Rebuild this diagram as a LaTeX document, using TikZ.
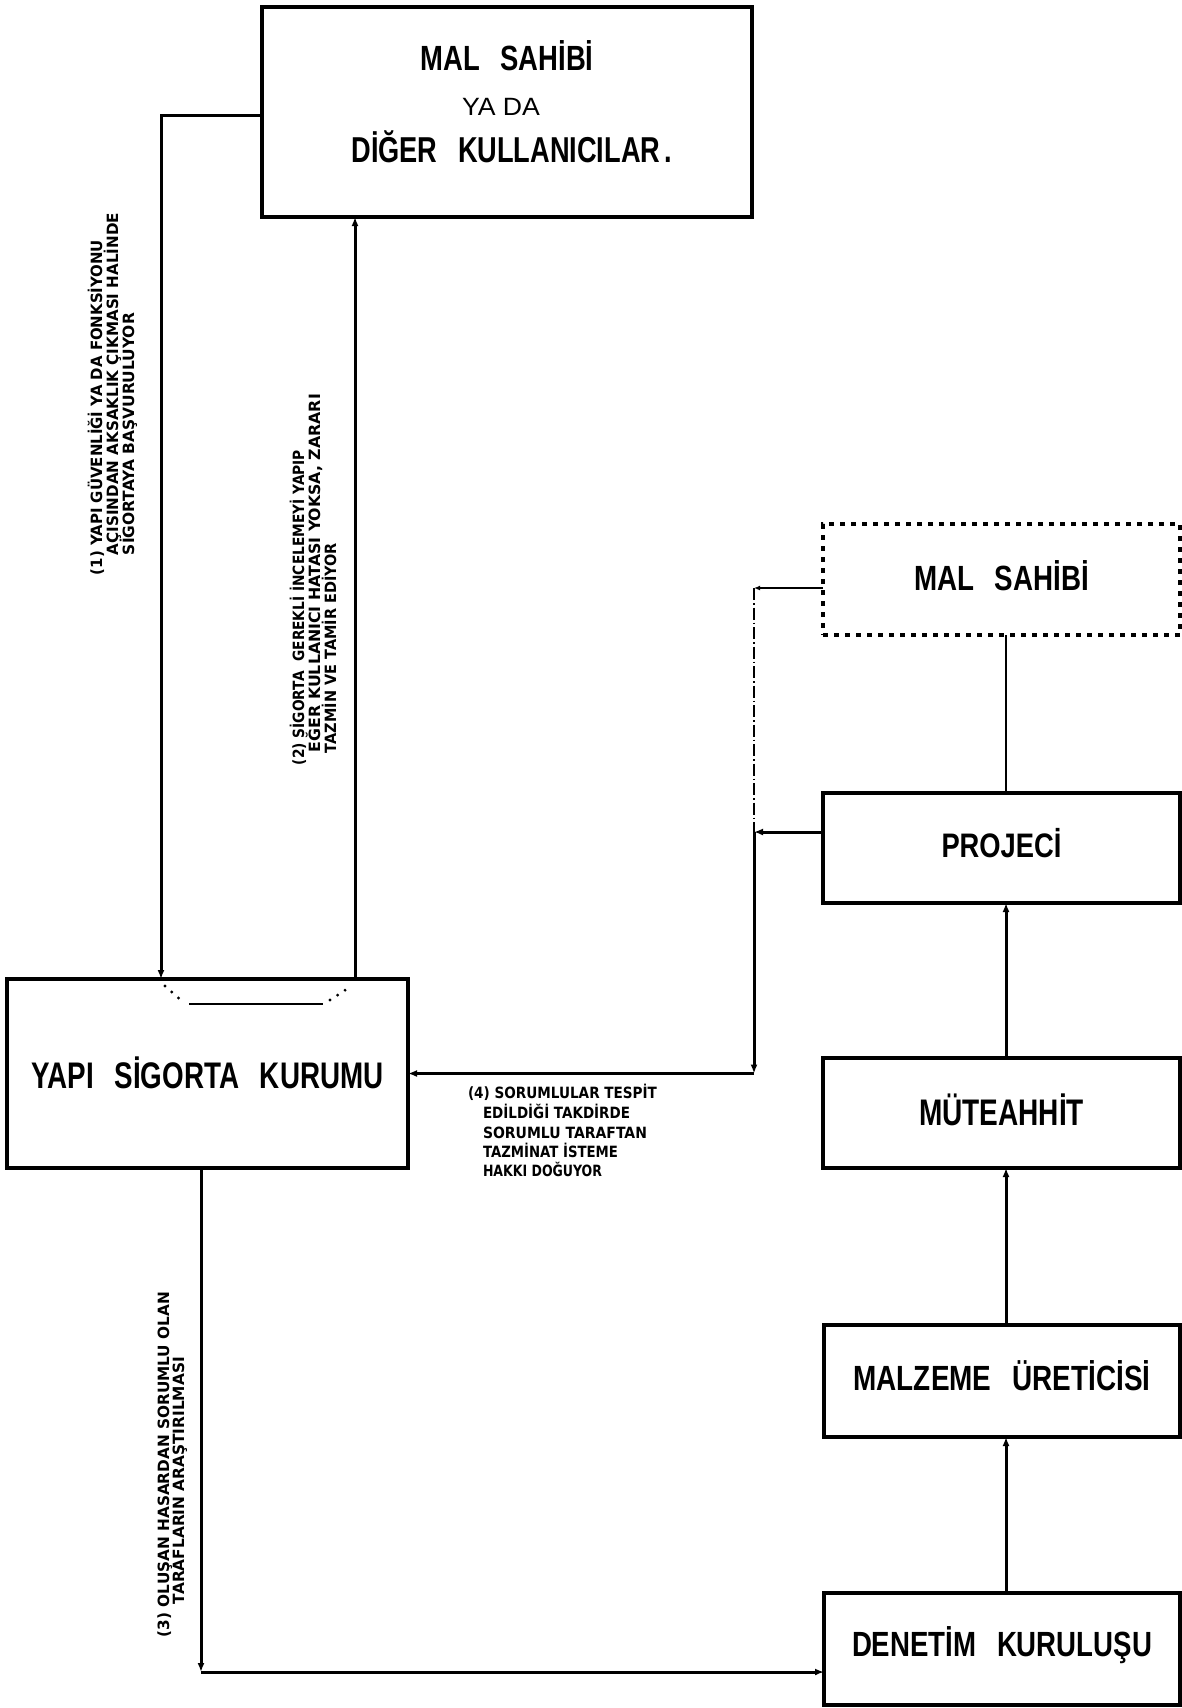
\documentclass[tikz,border=0pt]{standalone}
\usepackage{fontspec}
\usepackage{graphicx}
\usetikzlibrary{arrows.meta,calc}
\setmainfont{Liberation Sans}
\newfontfamily\boxfont{Liberation Sans}
\newfontfamily\notefont{DejaVu Sans}

% squeeze or stretch a text horizontally to a given width, keeping its height
\newcommand{\fitw}[2]{\resizebox{#1}{\height}{#2}}
\newcommand{\wgap}{\hspace{0.75em}}
% box titles: size, width, text
\newcommand{\boxtxt}[3]{\fitw{#2}{\boxfont\bfseries\fontsize{#1}{#1}\selectfont #3}}
% side notes: width, text
\newcommand{\notetxt}[2]{\fitw{#1}{\notefont\bfseries\fontsize{15.5}{16}\selectfont #2}}

\begin{document}
\begin{tikzpicture}[x=1pt,y=-1pt,
  box/.style={draw, line width=3.4pt, inner sep=0pt, outer sep=0pt},
  ghostbox/.style={draw, line width=3.4pt, dash pattern=on 5pt off 6pt, inner sep=0pt, outer sep=0pt},
  conn/.style={line width=3pt},
  thinconn/.style={line width=1.4pt},
  ghostconn/.style={line width=1.1pt, dash pattern=on 12pt off 3pt on 1.5pt off 3pt},
  tip/.style={-{Latex[length=9pt,width=7pt]}},
  capt/.style={inner sep=0pt, outer sep=0pt, text depth=0pt},
  note/.style={inner sep=0pt, outer sep=0pt, anchor=base west},
  dotpath/.style={line width=3.2pt, line cap=round, dash pattern=on 0pt off 9pt}
]
\useasboundingbox (0,0) rectangle (1181,1708);
\fill[white] (0,0) rectangle (1181,1708);

% ---- boxes ----
\node[box, minimum width=490pt, minimum height=210pt] (owner) at (507,112) {};
\node[capt, anchor=base] (ownerA) at (507,70) {\boxtxt{35}{173pt}{MAL\wgap SAHİBİ}};
\node[capt, anchor=base] (ownerB) at (501,115) {\fitw{78pt}{\boxfont\fontsize{25}{25}\selectfont YA DA}};
\node[capt, anchor=base] (ownerC) at (512,162) {\boxtxt{36}{321pt}{DİĞER\wgap KULLANICILAR\,.}};

\node[box, minimum width=401pt, minimum height=189pt, text height=27pt] (ysk) at (207.5,1073.5)
  {\raisebox{-4pt}{\boxtxt{37}{352pt}{YAPI\wgap SİGORTA\wgap KURUMU}}};

\node[ghostbox, minimum width=357pt, minimum height=111pt, text height=25pt] (ms2) at (1001.5,579.5)
  {\raisebox{2pt}{\boxtxt{35}{175pt}{MAL\wgap SAHİBİ}}};
\node[box, minimum width=357pt, minimum height=110pt, text height=24pt] (proj) at (1001.5,848)
  {\raisebox{3pt}{\boxtxt{34}{120pt}{PROJECİ}}};
\node[box, minimum width=357pt, minimum height=110pt, text height=26pt] (mut) at (1001.5,1113)
  {\boxtxt{37}{165pt}{MÜTEAHHİT}};
\node[box, minimum width=356pt, minimum height=112pt, text height=25pt] (malz) at (1002,1381)
  {\raisebox{3pt}{\boxtxt{35}{297pt}{MALZEME\wgap ÜRETİCİSİ}}};
\node[box, minimum width=356pt, minimum height=112pt, text height=25pt] (den) at (1002,1649)
  {\raisebox{3pt}{\boxtxt{35}{300pt}{DENETİM\wgap KURULUŞU}}};

% ---- routing columns ----
\coordinate (k1) at (161,0);
\coordinate (k2) at (355,0);
\coordinate (k3) at (201,0);
\coordinate (k4) at (754,0);
\coordinate (kr) at (1006,0);

% (1) owner -> insurer
\draw[conn, tip] ($(owner.west)+(0,3)$) -| (k1 |- ysk.north);
% (2) insurer -> owner
\draw[conn, tip] (k2 |- ysk.north) -- (k2 |- owner.south);
% hand-over inside the insurer box
\coordinate (u1) at (165,986);
\coordinate (u2) at (183,1002);
\coordinate (u3) at (189,1004);
\coordinate (u4) at (323,1004);
\coordinate (u5) at (330,1000);
\coordinate (u6) at (350,987);
\draw[dotpath] (u1) -- (u2);
\draw[line width=2.4pt] (u3) -- (u4);
\draw[dotpath] (u5) -- (u6);

% (4) responsible parties -> insurer
\coordinate (msstub) at ($(ms2.west)+(0,8.5)$);
\coordinate (pjstub) at ($(proj.west)+(0,-16)$);
\draw[line width=2.4pt, -{Latex[length=6pt,width=5pt]}] (msstub) -- (k4 |- msstub);
\draw[ghostconn] (k4 |- msstub) -- (k4 |- pjstub);
\draw[conn, tip] (pjstub) -- (k4 |- pjstub);
\draw[conn, tip] (k4 |- pjstub) -- (k4 |- ysk.east);
\draw[conn, tip] (k4 |- ysk.east) -- (ysk.east);

% (3) insurer -> inspection body
\coordinate (dnstub) at ($(den.west)+(0,23)$);
\draw[conn, tip] (k3 |- ysk.south) -- (k3 |- dnstub);
\draw[conn, tip] (k3 |- dnstub) -- (dnstub);

% right-hand chain
\draw[thinconn] (kr |- ms2.south) -- (kr |- proj.north);
\draw[conn, tip] (kr |- mut.north) -- (kr |- proj.south);
\draw[conn, tip] (kr |- malz.north) -- (kr |- mut.south);
\draw[conn, tip] (kr |- den.north) -- (kr |- malz.south);

% ---- notes ----
\node[note, rotate=90] (n1a) at (102,575) {\notetxt{335pt}{(1) YAPI GÜVENLİĞİ YA DA FONKSİYONU}};
\node[note, rotate=90] (n1b) at (118,555) {\notetxt{342pt}{AÇISINDAN AKSAKLIK ÇIKMASI HALİNDE}};
\node[note, rotate=90] (n1c) at (134,555) {\notetxt{242pt}{SİGORTAYA BAŞVURULUYOR}};

\node[note, rotate=90] (n2a) at (304,765) {\notetxt{315pt}{(2) SİGORTA\ \ GEREKLİ İNCELEMEYİ YAPIP}};
\node[note, rotate=90] (n2b) at (320,752) {\notetxt{358pt}{EĞER KULLANICI HATASI YOKSA, ZARARI}};
\node[note, rotate=90] (n2c) at (336,753) {\notetxt{210pt}{TAZMİN VE TAMİR EDİYOR}};

\node[note, rotate=90] (n3a) at (169,1637) {\notetxt{345pt}{(3) OLUŞAN HASARDAN SORUMLU OLAN}};
\node[note, rotate=90] (n3b) at (184,1604) {\notetxt{247pt}{TARAFLARIN ARAŞTIRILMASI}};

\node[note] (n4a) at (468,1098) {\notetxt{189pt}{(4) SORUMLULAR TESPİT}};
\node[note] (n4b) at (483,1118) {\notetxt{147pt}{EDİLDİĞİ TAKDİRDE}};
\node[note] (n4c) at (483,1138) {\notetxt{164pt}{SORUMLU TARAFTAN}};
\node[note] (n4d) at (483,1157) {\notetxt{135pt}{TAZMİNAT İSTEME}};
\node[note] (n4e) at (483,1176) {\notetxt{119pt}{HAKKI DOĞUYOR}};
\end{tikzpicture}
\end{document}
